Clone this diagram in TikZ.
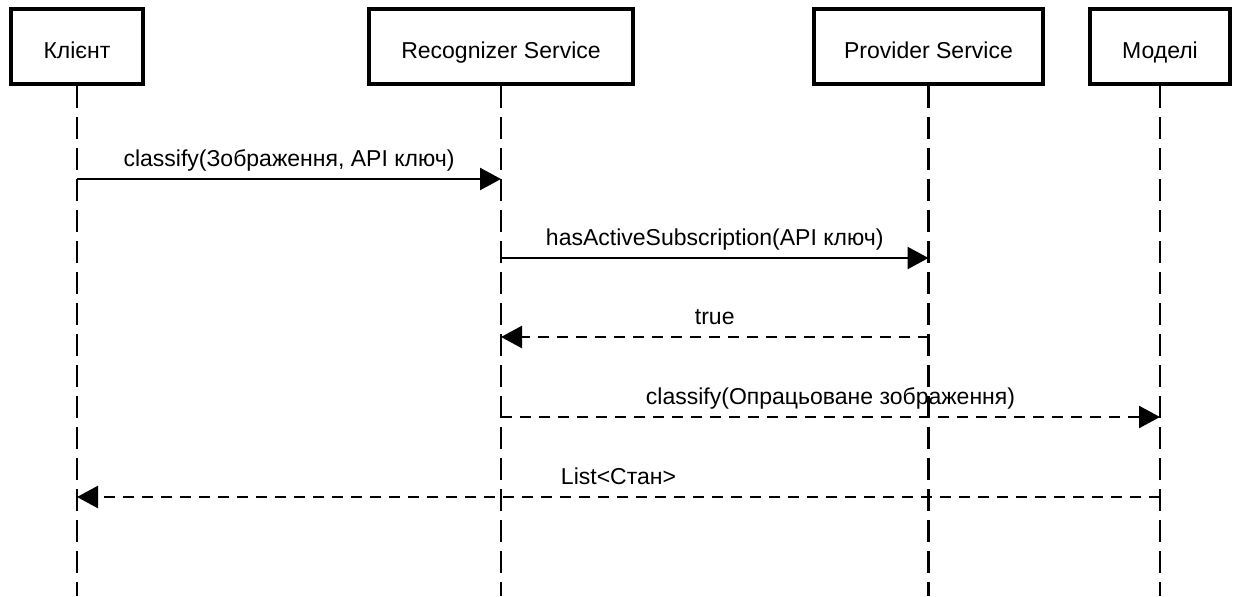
\documentclass[tikz,border=0pt]{standalone}
\usepackage{fontspec}
\setmainfont{Liberation Sans}
\usetikzlibrary{arrows.meta}
\begin{document}
\begin{tikzpicture}[x=0.5pt,y=-0.5pt,
  txt/.style={font=\fontsize{11.5}{14}\selectfont},
  actor/.style={draw,line width=2pt,minimum height=37.5pt,inner sep=0pt,
    text height=11.8pt,text depth=0pt,txt},
  lifeline/.style={line width=1.3pt,dash pattern=on 11pt off 4.5pt},
  msg/.style={line width=1.2pt,-{Triangle[length=10.5pt,width=11pt]}},
  reply/.style={msg,dash pattern=on 5.5pt off 4pt},
  lbl/.style={anchor=base,inner sep=0pt,txt,yshift=6.5pt}]
\useasboundingbox (0,0) rectangle (1236,596);

% participants
\node[actor,minimum width=66pt]  (client) at (77,46.5)   {Клієнт};
\node[actor,minimum width=132pt] (recog)  at (501,46.5)  {Recognizer Service};
\node[actor,minimum width=114.5pt] (prov) at (928.5,46.5) {Provider Service};
\node[actor,minimum width=70pt]  (models) at (1160,46.5) {Моделі};

% lifelines
\coordinate (bottom) at (0,596);
\foreach \p in {client,recog,prov,models}
  \draw[lifeline] (\p.south) -- (\p.south |- bottom);

% message rows
\coordinate (m1) at (0,179);
\coordinate (m2) at (0,258);
\coordinate (m3) at (0,337);
\coordinate (m4) at (0,417);
\coordinate (m5) at (0,497);

\draw[msg]   (client.south |- m1) -- (recog.south |- m1)
  node[lbl,midway] {classify(Зображення, API ключ)};
\draw[msg]   (recog.south |- m2) -- (prov.south |- m2)
  node[lbl,midway] {hasActiveSubscription(API ключ)};
\draw[reply] (prov.south |- m3) -- (recog.south |- m3)
  node[lbl,midway] {true};
\draw[reply] (recog.south |- m4) -- (models.south |- m4)
  node[lbl,midway] {classify(Опрацьоване зображення)};
\draw[reply] (models.south |- m5) -- (client.south |- m5)
  node[lbl,midway] {List<Стан>};
\end{tikzpicture}
\end{document}
